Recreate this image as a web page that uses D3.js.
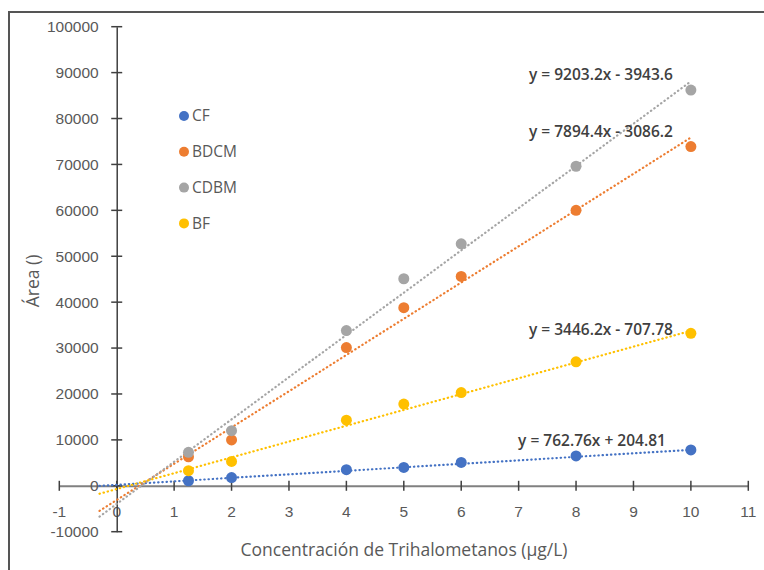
<!DOCTYPE html>
<html lang="es">
<head>
<meta charset="UTF-8">
<title>Trihalometanos</title>
<script src="https://cdn.jsdelivr.net/npm/d3@7"></script>
<style>
  html, body { margin: 0; padding: 0; background: #fff; }
  svg { display: block; font-family: 'Open Sans', sans-serif; }
  .tick-label { fill: #595959; font-size: 15.5px; }
  .eq { fill: #404040; font-size: 15.5px; font-weight: 600; }
  .legend-text { fill: #595959; font-size: 15.5px; }
  .axis-title { fill: #595959; font-size: 17.5px; }
</style>
</head>
<body>
<div id="chart"></div>
<script>
// concentraciones (µg/L)
const conc = [1.25, 2, 4, 5, 6, 8, 10];

// áreas
const areaCF   = [1100, 1800, 3500, 4000, 5100, 6500, 7800];
const areaBDCM = [6300, 10000, 30100, 38800, 45600, 60000, 73900];
const areaCDBM = [7300, 12000, 33800, 45100, 52700, 69600, 86200];
const areaBF   = [3300, 5300, 14300, 17800, 20300, 27000, 33200];

const nombres = ["CF", "BDCM", "CDBM", "BF"];
const pendientes = [762.76, 7894.4, 9203.2, 3446.2];
const intercepts = [204.81, -3086.2, -3943.6, -707.78];
const ecuaciones = ["y = 762.76x + 204.81", "y = 7894.4x - 3086.2", "y = 9203.2x - 3943.6", "y = 3446.2x - 707.78"];

const xTicks = [-1, 0, 1, 2, 3, 4, 5, 6, 7, 8, 9, 10, 11];
const yTicks = [-10000, 0, 10000, 20000, 30000, 40000, 50000, 60000, 70000, 80000, 90000, 100000];

const colores = ["#4472C4", "#ED7D31", "#A5A5A5", "#FFC000"];
const series = [areaCF, areaBDCM, areaCDBM, areaBF];

var width = 764, height = 570;

var svg = d3.select("#chart").append("svg")
    .attr("width", width)
    .attr("height", height);

// marco
svg.append("path")
    .attr("d", `M9,${height} V12 H${width}`)
    .attr("fill", "none")
    .attr("stroke", "#555")
    .attr("stroke-width", 2);

var x = d3.scaleLinear().domain([-1, 11]).range([59.3, 748.3]),
    y = d3.scaleLinear().domain([-10000, 100000]).range([531.7, 26.7]);

// eje horizontal (en y = 0)
var gx = svg.append("g")
    .attr("transform", `translate(0, ${y(0)})`)
    .call(d3.axisBottom(x).tickValues(xTicks).tickSize(0).tickFormat(""));
gx.select(".domain").attr("stroke", "#808080").attr("stroke-width", 2);
gx.selectAll(".tk").data(xTicks).enter().append("line")
    .attr("x1", d => x(d)).attr("x2", d => x(d))
    .attr("y1", -5).attr("y2", 5)
    .attr("stroke", "#404040").attr("stroke-width", 1.5);
gx.selectAll(".tick-label").data(xTicks).enter().append("text")
    .attr("class", "tick-label")
    .attr("x", d => x(d))
    .attr("y", 26)
    .attr("dy", "0.35em")
    .attr("text-anchor", "middle")
    .text(d => d);

// eje vertical (en x = 0)
var gy = svg.append("g")
    .attr("transform", `translate(${x(0)}, 0)`)
    .call(d3.axisLeft(y).tickValues(yTicks).tickSize(0).tickFormat(""));
gy.select(".domain").attr("stroke", "#404040").attr("stroke-width", 1.5);
gy.selectAll(".tk").data(yTicks).enter().append("line")
    .attr("x1", -5.5).attr("x2", 5.5)
    .attr("y1", d => y(d)).attr("y2", d => y(d))
    .attr("stroke", "#404040").attr("stroke-width", 1.5);
gy.selectAll(".tick-label").data(yTicks).enter().append("text")
    .attr("class", "tick-label")
    .attr("x", -18)
    .attr("y", d => y(d))
    .attr("dy", "0.35em")
    .attr("text-anchor", "end")
    .text(d => d);

// líneas de tendencia
var xIni = -0.3, xFin = 10;
nombres.forEach((n, i) => {
  svg.append("line")
    .attr("x1", x(xIni)).attr("y1", y(pendientes[i] * xIni + intercepts[i]))
    .attr("x2", x(xFin)).attr("y2", y(pendientes[i] * xFin + intercepts[i]))
    .attr("stroke", colores[i])
    .attr("stroke-width", 2.2)
    .attr("stroke-dasharray", "0.4 3.8")
    .attr("stroke-linecap", "round");
});

// puntos
series.forEach((vals, i) => {
  svg.append("g").selectAll("circle")
    .data(vals)
    .enter().append("circle")
    .attr("cx", (d, j) => x(conc[j]))
    .attr("cy", d => y(d))
    .attr("r", 5.5)
    .attr("fill", colores[i]);
});

// ecuaciones
var eqDy = [-9, -6, -7, -1];
var eqDx = [-25, -18, -18, -18];
nombres.forEach((n, i) => {
  svg.append("text")
    .attr("class", "eq")
    .attr("x", x(10) + eqDx[i])
    .attr("y", y(pendientes[i] * 10 + intercepts[i]) + eqDy[i])
    .attr("dy", "0.35em")
    .attr("text-anchor", "end")
    .text(ecuaciones[i]);
});

// leyenda
var leyenda = svg.append("g").attr("transform", "translate(184, 116)");
nombres.forEach((n, i) => {
  var g = leyenda.append("g").attr("transform", `translate(0, ${i * 35.8})`);
  g.append("circle").attr("r", 5).attr("fill", colores[i]);
  g.append("text")
    .attr("class", "legend-text")
    .attr("x", 8)
    .attr("dy", "0.35em")
    .text(n);
});

// títulos de ejes
svg.append("text")
    .attr("class", "axis-title")
    .attr("x", 404)
    .attr("y", 550)
    .attr("dy", "0.35em")
    .attr("text-anchor", "middle")
    .text("Concentración de Trihalometanos (µg/L)");

svg.append("text")
    .attr("class", "axis-title")
    .attr("transform", "translate(33, 281) rotate(-90)")
    .attr("dy", "0.35em")
    .attr("text-anchor", "middle")
    .text("Área ()");
</script>
</body>
</html>
